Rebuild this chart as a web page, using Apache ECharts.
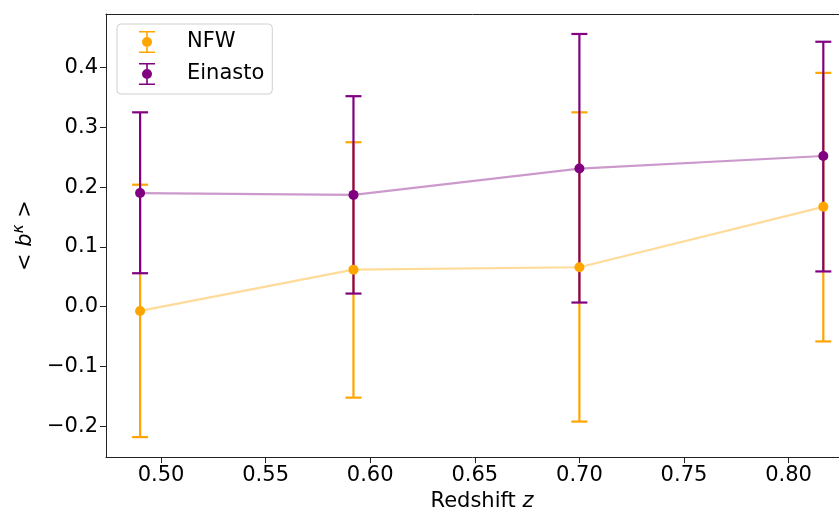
<!DOCTYPE html>
<html>
<head>
<meta charset="utf-8">
<script src="https://cdn.jsdelivr.net/npm/echarts@6/dist/echarts.min.js"></script>
<style>
  html, body { margin: 0; padding: 0; background: #fff; }
  #chart { width: 839px; height: 517px; }
</style>
</head>
<body>
<div id="chart"></div>
<script>
    // redshift bins
    const redshift = [0.490, 0.592, 0.700, 0.8166]
    // NFW mean and error bar ends
    const nfwMean = [-0.007, 0.062, 0.066, 0.167]
    const nfwLow = [-0.218, -0.152, -0.192, -0.058]
    const nfwHigh = [0.204, 0.275, 0.325, 0.391]
    // Einasto mean and error bar ends
    const einMean = [0.190, 0.187, 0.231, 0.252]
    const einLow = [0.056, 0.022, 0.007, 0.059]
    const einHigh = [0.325, 0.352, 0.456, 0.443]
    // tick labels
    const xTicks = [0.50, 0.55, 0.60, 0.65, 0.70, 0.75, 0.80]
    const yTicks = [-0.2, -0.1, 0.0, 0.1, 0.2, 0.3, 0.4]

    const ORANGE = '#ffa500'
    const PURPLE = '#800080'
    const FONT = 'DejaVu Sans'

    const errIcon = 'path://M0,0 H16 V1.6 H0 Z M7.2,0 H8.8 V22 H7.2 Z M0,20.4 H16 V22 H0 Z M13,11 A5,5 0 1,1 3,11 A5,5 0 1,1 13,11 Z'

    function fmtNum(v, d) {
        return v < 0 ? '\u2212' + Math.abs(v).toFixed(d) : v.toFixed(d)
    }

    function errSeries(name, low, high, color) {
        return {
            name: name,
            type: 'custom',
            data: redshift.map((z, i) => [z, low[i], high[i]]),
            encode: {x: 0, y: [1, 2]},
            z: 3,
            renderItem: function (params, api) {
                const top = api.coord([api.value(0), api.value(2)])
                const bot = api.coord([api.value(0), api.value(1)])
                const st = {stroke: color, lineWidth: 2.2}
                return {
                    type: 'group',
                    children: [
                        {type: 'line', shape: {x1: top[0], y1: top[1], x2: bot[0], y2: bot[1]}, style: st},
                        {type: 'line', shape: {x1: top[0] - 8, y1: top[1], x2: top[0] + 8, y2: top[1]}, style: st},
                        {type: 'line', shape: {x1: bot[0] - 8, y1: bot[1], x2: bot[0] + 8, y2: bot[1]}, style: st}
                    ]
                }
            }
        }
    }

    function lineSeries(name, mean, color) {
        return {
            name: name,
            type: 'line',
            data: redshift.map((z, i) => [z, mean[i]]),
            symbol: 'none',
            z: 2,
            lineStyle: {color: color, width: 2.2, opacity: 0.4}
        }
    }

    function dotSeries(name, mean, color) {
        return {
            name: name,
            type: 'scatter',
            data: redshift.map((z, i) => [z, mean[i]]),
            symbolSize: 10,
            z: 5,
            itemStyle: {color: color, opacity: 1}
        }
    }

    let myChart = echarts.init(document.getElementById('chart'))
    myChart.setOption({
        animation: false,
        backgroundColor: '#fff',
        textStyle: {fontFamily: FONT},
        grid: {
            left: 106,
            top: 14,
            right: 0,
            height: 448
        },
        legend: {
            orient: 'vertical',
            left: 117,
            top: 24,
            padding: [7, 8, 9, 22],
            itemGap: 10,
            itemWidth: 16,
            itemHeight: 22,
            borderColor: '#d0d0d0',
            borderWidth: 1,
            borderRadius: 4,
            backgroundColor: 'rgba(255,255,255,0.8)',
            textStyle: {fontSize: 21, color: '#000', fontFamily: FONT, padding: [0, 0, 0, 27]},
            data: [
                {name: 'NFW', icon: errIcon, itemStyle: {color: ORANGE}},
                {name: 'Einasto', icon: errIcon, itemStyle: {color: PURPLE}}
            ]
        },
        xAxis: [
            {
                type: 'value',
                min: 0.4737,
                max: 0.8241,
                name: 'Redshift {i|z}',
                nameLocation: 'middle',
                nameGap: 32,
                nameTextStyle: {
                    fontSize: 21, color: '#000', fontFamily: FONT,
                    padding: [0, 0, 0, 19],
                    rich: {i: {fontSize: 21, fontStyle: 'italic', fontFamily: FONT, color: '#000'}}
                },
                splitLine: {show: false},
                axisLine: {onZero: false, lineStyle: {color: '#222', width: 1}},
                axisTick: {show: true, length: 6, lineStyle: {color: '#222'}, customValues: xTicks},
                axisLabel: {
                    fontSize: 21, color: '#000', margin: 8,
                    customValues: xTicks,
                    formatter: v => fmtNum(v, 2)
                }
            },
            {
                type: 'value',
                position: 'top',
                min: 0.4737,
                max: 0.8241,
                axisLine: {show: true, onZero: false, lineStyle: {color: '#222', width: 1}},
                axisTick: {show: false},
                axisLabel: {show: false},
                splitLine: {show: false}
            }
        ],
        yAxis: {
            type: 'value',
            min: -0.2514,
            max: 0.4894,
            name: '< {i|b}{s|\u03ba} >',
            nameLocation: 'middle',
            nameGap: 63,
            nameRotate: 90,
            nameTextStyle: {
                fontSize: 21, color: '#000', fontFamily: FONT,
                rich: {
                    i: {fontSize: 21, fontStyle: 'italic', fontFamily: FONT, color: '#000'},
                    s: {fontSize: 15, fontStyle: 'italic', fontFamily: FONT, color: '#000', padding: [0, 0, 12, 0]}
                }
            },
            splitLine: {show: false},
            axisLine: {show: true, onZero: false, lineStyle: {color: '#222', width: 1}},
            axisTick: {show: true, length: 6, lineStyle: {color: '#222'}, customValues: yTicks},
            axisLabel: {
                fontSize: 21, color: '#000', margin: 8,
                customValues: yTicks,
                formatter: v => fmtNum(v, 1)
            }
        },
        series: [
            lineSeries('nfwLine', nfwMean, ORANGE),
            lineSeries('einLine', einMean, PURPLE),
            errSeries('nfwErr', nfwLow, nfwHigh, ORANGE),
            errSeries('einErr', einLow, einHigh, PURPLE),
            dotSeries('NFW', nfwMean, ORANGE),
            dotSeries('Einasto', einMean, PURPLE)
        ]
    })
</script>
</body>
</html>
